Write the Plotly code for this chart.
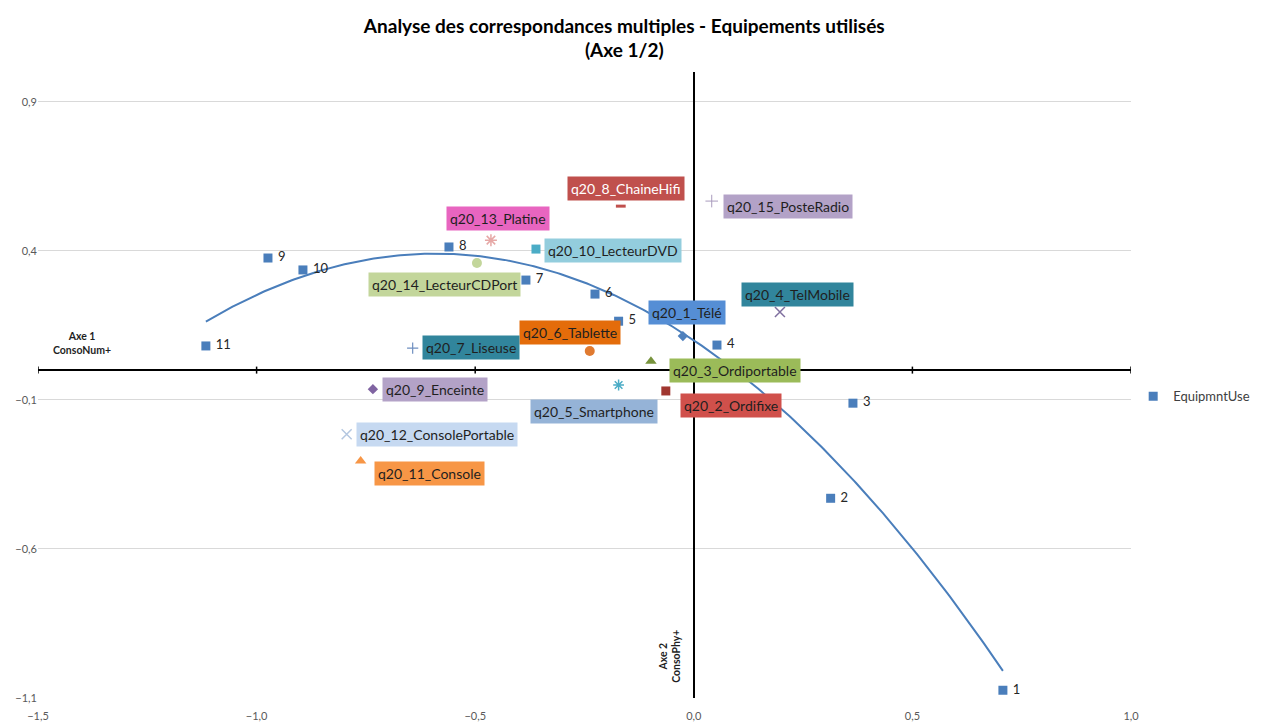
import numpy as np
import plotly.graph_objects as go

# Individuals (numbered observations) on axes 1 and 2
num_labels = ["1", "2", "3", "4", "5", "6", "7", "8", "9", "10", "11"]
num_x = [0.707, 0.313, 0.364, 0.053, -0.172, -0.226, -0.384, -0.560, -0.974, -0.894, -1.116]
num_y = [-1.074, -0.430, -0.111, 0.084, 0.164, 0.255, 0.302, 0.413, 0.376, 0.336, 0.081]

# Category modalities (equipment used)
cat_names = [
    "q20_1_Télé", "q20_2_Ordifixe", "q20_3_Ordiportable", "q20_4_TelMobile",
    "q20_5_Smartphone", "q20_6_Tablette", "q20_7_Liseuse", "q20_8_ChaineHifi",
    "q20_9_Enceinte", "q20_10_LecteurDVD", "q20_11_Console", "q20_12_ConsolePortable",
    "q20_13_Platine", "q20_14_LecteurCDPort", "q20_15_PosteRadio",
]
cat_x = [-0.025, -0.064, -0.098, 0.197, -0.172, -0.238, -0.643, -0.167,
         -0.734, -0.361, -0.762, -0.794, -0.464, -0.496, 0.041]
cat_y = [0.114, -0.070, 0.030, 0.195, -0.050, 0.064, 0.074, 0.550,
         -0.064, 0.406, -0.305, -0.215, 0.436, 0.359, 0.567]

x_ticks = [-1.5, -1.0, -0.5, 0.0, 0.5, 1.0]
y_ticks = [-1.1, -0.6, -0.1, 0.4, 0.9]

# Marker style per category: (symbol, colour, size, line width)
cat_marker = [
    ("diamond", "#4f81bd", 8, 0),
    ("square", "#a0362f", 9, 0),
    ("triangle-up", "#77933c", 10, 0),
    ("x-thin-open", "#7f6f9f", 10, 1.5),
    ("asterisk-open", "#4bacc6", 9, 1.5),
    ("circle", "#e07a30", 10, 0),
    ("cross-thin-open", "#6f8fc0", 8, 1.2),
    ("line-ew-open", "#c0504d", 7, 3),
    ("diamond", "#8064a2", 8, 0),
    ("square", "#4bacc6", 9, 0),
    ("triangle-up", "#f79646", 10, 0),
    ("x-thin-open", "#b4c7e0", 10, 1.5),
    ("asterisk-open", "#e6a8a6", 10, 1.5),
    ("circle", "#c3d69b", 10, 0),
    ("cross-thin-open", "#a99bbd", 9, 1.0),
]

# Label box style per category: (background, text colour, anchor, dx px, dy px)
cat_box = [
    ("#558ed5", "#1f1f1f", "center", 4, -24),
    ("#d0504b", "#1f1f1f", "left", 14, 15),
    ("#9bbb59", "#1f1f1f", "left", 18, 9),
    ("#31859c", "#1f1f1f", "center", 18, -17),
    ("#95b3d7", "#1f1f1f", "center", -25, 26),
    ("#e46c0a", "#1f1f1f", "center", -20, -19),
    ("#31859c", "#1f1f1f", "left", 9, -1),
    ("#c0504d", "#ffffff", "center", 5, -18),
    ("#b3a2c7", "#1f1f1f", "left", 9, 0),
    ("#93cddd", "#1f1f1f", "left", 8, 1),
    ("#f79646", "#1f1f1f", "left", 13, 12),
    ("#c6d9f1", "#1f1f1f", "left", 9, 0),
    ("#e865c0", "#1f1f1f", "center", 7, -22),
    ("#c3d69b", "#1f1f1f", "center", -32, 21),
    ("#b3a2c7", "#1f1f1f", "left", 11, 5),
]

FONT = "Lato, 'Open Sans', sans-serif"
BLUE = "#4a7ebb"

fig = go.Figure()

# Polynomial (order 2) trendline over the numbered observations
coef = np.polyfit(num_x, num_y, 2)
tx = np.linspace(min(num_x), max(num_x), 300)
fig.add_trace(go.Scatter(
    x=tx, y=np.polyval(coef, tx), mode="lines",
    line=dict(color=BLUE, width=2), showlegend=False, hoverinfo="skip",
))

# Small tick marks on the horizontal axis line
fig.add_trace(go.Scatter(
    x=x_ticks, y=[0] * len(x_ticks), mode="markers",
    marker=dict(symbol="line-ns-open", size=5, color="black",
                line=dict(color="black", width=1.5)),
    showlegend=False, hoverinfo="skip",
))

# Category modalities
for name, x, y, (sym, col, size, lw) in zip(cat_names, cat_x, cat_y, cat_marker):
    mk = dict(symbol=sym, color=col, size=size)
    if lw:
        mk["line"] = dict(color=col, width=lw)
    fig.add_trace(go.Scatter(
        x=[x], y=[y], mode="markers", marker=mk, name=name, showlegend=False,
    ))

# Numbered observations
fig.add_trace(go.Scatter(
    x=num_x, y=num_y, mode="markers+text", name="EquipmntUse",
    text=[" " + t for t in num_labels], textposition="middle right",
    textfont=dict(family=FONT, size=13, color="#262626"),
    marker=dict(symbol="square", color=BLUE, size=9),
))

# Coloured label boxes
for name, x, y, (bg, fc, anchor, dx, dy) in zip(cat_names, cat_x, cat_y, cat_box):
    fig.add_annotation(
        x=x, y=y, text=name, showarrow=False, xanchor=anchor, yanchor="middle",
        xshift=dx, yshift=-dy, bgcolor=bg, borderpad=3,
        font=dict(family=FONT, size=14, color=fc),
    )

# Axis captions
fig.add_annotation(
    x=-1.4, y=0.0, yshift=27, text="<b>Axe 1<br>ConsoNum+</b>", showarrow=False,
    font=dict(family=FONT, size=10.5, color="#1f1f1f"), align="center",
)
fig.add_annotation(
    x=0.0, y=-1.1, xshift=-24, yshift=42, text="<b>Axe 2<br>ConsoPhy+</b>", showarrow=False,
    textangle=-90, font=dict(family=FONT, size=10.5, color="#1f1f1f"), align="center",
)

fig.update_layout(
    width=1274, height=724,
    margin=dict(l=38, r=143, t=72, b=26),
    paper_bgcolor="white", plot_bgcolor="white",
    separators=", ",
    font=dict(family=FONT, color="#595959"),
    title=dict(
        text="<b>Analyse des correspondances multiples - Equipements utilisés<br>(Axe 1/2)</b>",
        x=0.49, xanchor="center", y=0.955, yanchor="middle",
        font=dict(family=FONT, size=19, color="#000000"),
    ),
    legend=dict(
        x=1.002, y=0.482, xanchor="left", yanchor="middle",
        font=dict(family=FONT, size=13, color="#404040"),
        bgcolor="rgba(0,0,0,0)",
    ),
    showlegend=True,
    xaxis=dict(
        range=[-1.5, 1.0], tickvals=x_ticks, tickformat=".1f", showgrid=False,
        zeroline=True, zerolinecolor="black", zerolinewidth=2, showline=False,
        ticks="", ticklabelstandoff=10, tickfont=dict(size=11, color="#595959"),
        automargin=False,
    ),
    yaxis=dict(
        range=[-1.1, 1.0], tickvals=y_ticks, tickformat=".1f", showgrid=True,
        gridcolor="#d9d9d9", gridwidth=1, zeroline=True, zerolinecolor="black",
        zerolinewidth=2, showline=False, ticks="",
        tickfont=dict(size=11, color="#595959"), automargin=False,
    ),
)

fig.write_html("out.html")
